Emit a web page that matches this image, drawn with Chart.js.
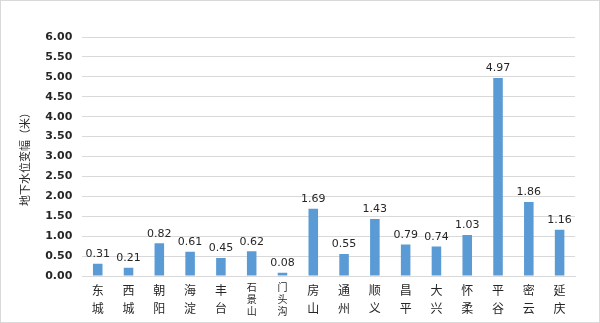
<!DOCTYPE html>
<html>
<head>
<meta charset="utf-8">
<script src="https://cdn.jsdelivr.net/npm/chart.js@4/dist/chart.umd.min.js"></script>
<style>
  html, body { margin: 0; padding: 0; background: #fff; }
  #wrap { position: absolute; left: 0; top: 0; width: 598px; height: 321px; border: 1px solid #d9d9d9; }
  canvas { display: block; }
</style>
</head>
<body>
<div id="wrap"><canvas id="grafico" width="598" height="321"></canvas></div>
<script>
const distritos = ['东城', '西城', '朝阳', '海淀', '丰台', '石景山', '门头沟', '房山', '通州', '顺义', '昌平', '大兴', '怀柔', '平谷', '密云', '延庆'];
const variacion = [0.31, 0.21, 0.82, 0.61, 0.45, 0.62, 0.08, 1.69, 0.55, 1.43, 0.79, 0.74, 1.03, 4.97, 1.86, 1.16];
const ticksY = [0, 0.5, 1, 1.5, 2, 2.5, 3, 3.5, 4, 4.5, 5, 5.5, 6];

const etiquetasPlugin = {
    id: 'etiquetas',
    afterDatasetsDraw(chart) {
        const ctx = chart.ctx;
        const meta = chart.getDatasetMeta(0);
        ctx.save();
        ctx.font = '11px "DejaVu Sans", sans-serif';
        ctx.fillStyle = '#262626';
        ctx.textAlign = 'center';
        ctx.textBaseline = 'bottom';
        meta.data.forEach((bar, i) => {
            ctx.fillText(variacion[i].toFixed(2), bar.x, bar.y - 4);
        });
        ctx.restore();
    }
};

document.addEventListener('DOMContentLoaded', function() {
    const canvas = document.getElementById('grafico');
    new Chart(canvas.getContext('2d'), {
        type: 'bar',
        data: {
            labels: distritos.map(d => d.split('')),
            datasets: [{
                data: variacion,
                backgroundColor: '#5B9BD5',
                barPercentage: 0.62,
                categoryPercentage: 0.5
            }]
        },
        options: {
            responsive: false,
            animation: false,
            layout: { padding: { top: 36, right: 24, left: 12, bottom: 0 } },
            plugins: {
                legend: { display: false },
                tooltip: { enabled: false }
            },
            scales: {
                y: {
                    min: 0,
                    max: 6,
                    afterBuildTicks: axis => { axis.ticks = ticksY.map(v => ({ value: v })); },
                    grid: { color: '#d9d9d9', drawTicks: false },
                    border: { display: false },
                    ticks: {
                        padding: 10,
                        color: '#262626',
                        font: { family: '"DejaVu Sans", sans-serif', size: 11, weight: 'bold' },
                        callback: v => v.toFixed(2)
                    },
                    title: {
                        display: true,
                        text: '地下水位变幅（米）',
                        color: '#262626',
                        padding: { top: 5, bottom: 4 },
                        font: { family: '"Noto Sans CJK SC", sans-serif', size: 11 }
                    }
                },
                x: {
                    grid: { display: false, drawTicks: false },
                    border: { color: '#d9d9d9' },
                    ticks: {
                        maxRotation: 0,
                        autoSkip: false,
                        padding: 5,
                        color: '#262626',
                        font: ctx => {
                            const largo = (distritos[ctx.index] || '').length > 2;
                            return {
                                family: '"Noto Sans CJK SC", sans-serif',
                                size: largo ? 10 : 12,
                                lineHeight: largo ? 1.2 : 1.5
                            };
                        }
                    }
                }
            }
        },
        plugins: [etiquetasPlugin]
    });
});
</script>
</body>
</html>
